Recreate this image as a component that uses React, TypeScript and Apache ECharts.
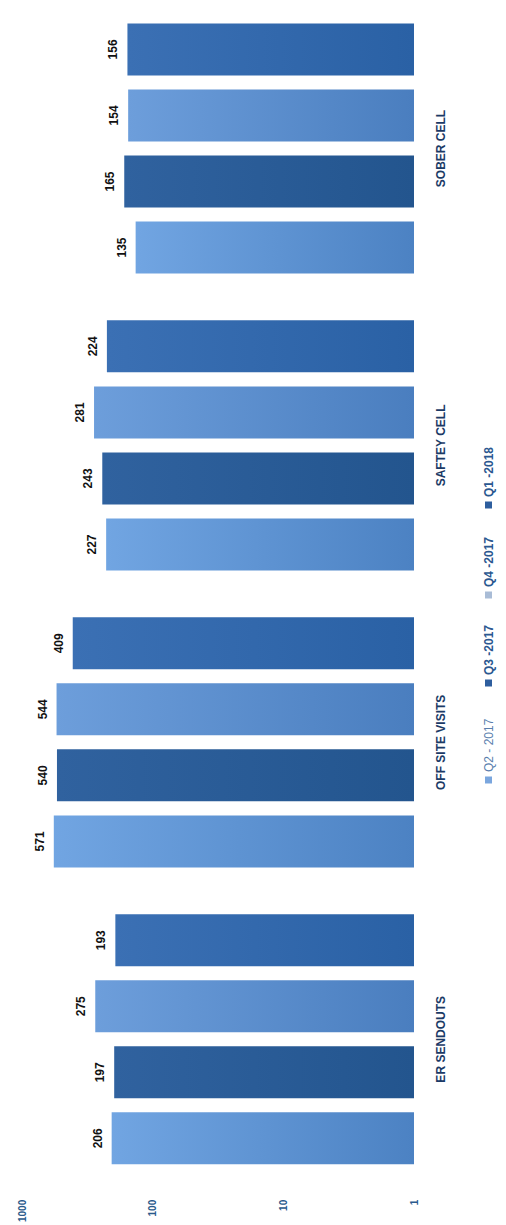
import React, { useEffect, useRef } from "react";
import * as echarts from "echarts";

const categories = ["ER SENDOUTS", "OFF SITE VISITS", "SAFTEY CELL", "SOBER CELL"];
const seriesNames = ["Q2 - 2017", "Q3 -2017", "Q4 -2017", "Q1 -2018"];
const q2_2017 = [206, 571, 227, 135];
const q3_2017 = [197, 540, 243, 165];
const q4_2017 = [275, 544, 281, 154];
const q1_2018 = [193, 409, 224, 156];
const seriesValues = [q2_2017, q3_2017, q4_2017, q1_2018];
const gradientStops = [
  ["#71a5e2", "#4c82c3"],
  ["#30629f", "#23558e"],
  ["#6d9edb", "#4a7ebf"],
  ["#3b70b4", "#2a61a5"],
];
const legendMarkerColors = ["#7aa6de", "#2e5e9e", "#a9bcd6", "#2e5e9e"];
const legendY = [780, 683, 595, 505];

export default function App() {
  const ref = useRef<HTMLDivElement>(null);
  useEffect(() => {
    if (!ref.current) return;
    const chart = echarts.init(ref.current, null, { renderer: "svg" });
    const series = seriesNames
      .map((name, i) => ({
        name,
        type: "bar",
        data: seriesValues[i],
        barWidth: 52,
        barGap: "27%",
        itemStyle: {
          color: new echarts.graphic.LinearGradient(0, 0, 1, 0, [
            { offset: 0, color: gradientStops[i][0] },
            { offset: 1, color: gradientStops[i][1] },
          ]),
        },
        label: {
          show: true,
          position: "left",
          rotate: 90,
          align: "center",
          verticalAlign: "bottom",
          distance: 8,
          color: "#111111",
          fontFamily: "Liberation Sans",
          fontWeight: "bold",
          fontSize: 12,
        },
      }))
      .reverse();
    const graphic: any[] = [];
    seriesNames.forEach((name, i) => {
      graphic.push({
        type: "rect",
        shape: { x: 485, y: legendY[i] - 3.5, width: 7, height: 7 },
        style: { fill: legendMarkerColors[i] },
      });
      graphic.push({
        type: "text",
        x: 488.5,
        y: legendY[i] - 8,
        rotation: Math.PI / 2,
        style: {
          text: name,
          fill: i === 0 ? "#5a7fae" : "#2a5790",
          font: (i === 0 ? "normal" : "bold") + " 12px 'Liberation Sans'",
          align: "left",
          verticalAlign: "middle",
        },
      });
    });
    chart.setOption({
      animation: false,
      backgroundColor: "#ffffff",
      grid: { left: 22, right: 92, top: -10, bottom: 35 },
      xAxis: {
        type: "log",
        logBase: 10,
        min: 1,
        max: 1000,
        inverse: true,
        position: "bottom",
        axisLine: { show: false },
        axisTick: { show: false },
        splitLine: { show: false },
        axisLabel: {
          rotate: 90,
          margin: 12,
          color: "#2a5a8c",
          fontFamily: "Liberation Sans",
          fontWeight: "bold",
          fontSize: 10,
          formatter: (v: number) => String(Math.round(v)),
        },
      },
      yAxis: {
        type: "category",
        data: categories,
        position: "right",
        axisLine: { show: false },
        axisTick: { show: false },
        splitLine: { show: false },
        axisLabel: {
          rotate: 90,
          margin: 21,
          color: "#1b3a66",
          fontFamily: "Liberation Sans",
          fontWeight: "bold",
          fontSize: 12,
        },
      },
      series,
      graphic,
    });
    return () => chart.dispose();
  }, []);
  return (
    <div
      ref={ref}
      style={{ position: "absolute", left: 0, top: 0, width: 506, height: 1225 }}
    />
  );
}
